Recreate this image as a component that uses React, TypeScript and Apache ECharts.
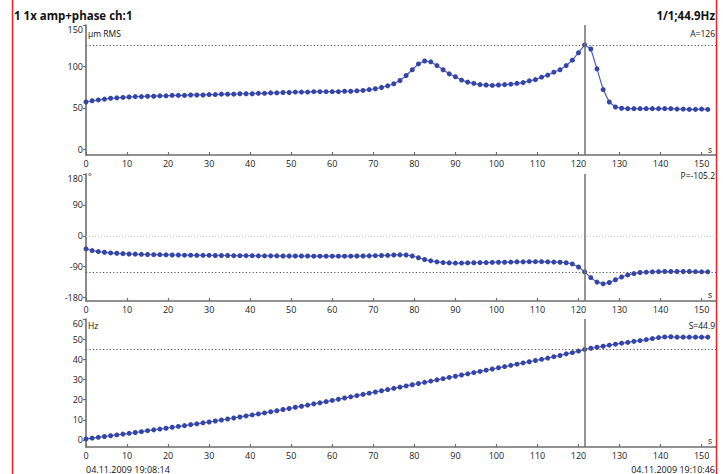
import React, { useEffect, useRef } from "react";
import * as echarts from "echarts";

// ---- data ----
const times = [
  0, 1.5, 3, 4.5, 6, 7.5, 9, 10.5, 12, 13.5,
  15, 16.5, 18, 19.5, 21, 22.5, 24, 25.5, 27, 28.5,
  30, 31.5, 33, 34.5, 36, 37.5, 39, 40.5, 42, 43.5,
  45, 46.5, 48, 49.5, 51, 52.5, 54, 55.5, 57, 58.5,
  60, 61.5, 63, 64.5, 66, 67.5, 69, 70.5, 72, 73.5,
  75, 76.5, 78, 79.5, 81, 82.5, 84, 85.5, 87, 88.5,
  90, 91.5, 93, 94.5, 96, 97.5, 99, 100.5, 102, 103.5,
  105, 106.5, 108, 109.5, 111, 112.5, 114, 115.5, 117, 118.5,
  120, 121.5, 123, 124.5, 126, 127.5, 129, 130.5, 132, 133.5,
  135, 136.5, 138, 139.5, 141, 142.5, 144, 145.5, 147, 148.5,
  150, 151.5,
];

const amplitude = [
  57, 58.5, 59.5, 60.5, 61.5, 62, 62.5, 63, 63.5, 63.5,
  64, 64, 64.5, 64.5, 65, 65, 65, 65.5, 65.5, 65.5,
  66, 66, 66.5, 66.5, 66.5, 67, 67, 67, 67.5, 67.5,
  68, 68, 68.5, 68.5, 69, 69, 69, 69.5, 69.5, 69.5,
  69.5, 69.5, 70, 70, 70.5, 71, 72, 73, 74.5, 76.5,
  79, 83, 89, 96, 103, 106.5, 105.5, 101, 96, 91,
  87.5, 83.5, 81, 79.5, 78, 77.5, 77, 77.5, 78, 78.5,
  79.5, 80.5, 82.5, 84, 87, 89.5, 93, 96, 101, 107.5,
  116.5, 126, 121, 97, 72, 57, 51, 49.5, 49, 49,
  49, 49, 49, 49, 49, 49, 48.5, 48.5, 48, 48,
  48.5, 48,
];

const phase = [
  -38, -43, -46, -48, -50, -51, -52, -53, -53.5, -54,
  -54.5, -55, -55, -55.5, -56, -56, -56.5, -56.5, -57, -57,
  -57, -57.5, -57.5, -57.5, -58, -58, -58, -58, -58.5, -58.5,
  -58.5, -58.5, -59, -59, -59, -59, -59, -59.5, -59.5, -59.5,
  -59.5, -59.5, -59.5, -59.5, -59, -59, -58.5, -58, -57.5, -57,
  -56, -55.5, -56, -59, -64, -69, -73, -76, -78, -79,
  -79.5, -79.5, -79, -78.5, -78, -78, -77.5, -77, -77, -76.5,
  -76, -76, -75.5, -75.5, -75.5, -76, -76.5, -77, -78.5, -82,
  -91, -105.2, -122, -135, -140, -136, -128, -120, -114, -110,
  -107, -106, -105, -104.5, -104, -104, -104, -104, -104, -104.5,
  -105, -105,
];

const frequency = [
  0.5, 0.9, 1.3, 1.7, 2.1, 2.5, 2.9, 3.3, 3.7, 4.1,
  4.6, 5.0, 5.4, 5.8, 6.3, 6.7, 7.1, 7.6, 8.0, 8.5,
  8.9, 9.4, 9.9, 10.4, 10.9, 11.4, 11.9, 12.4, 12.9, 13.4,
  14.0, 14.5, 15.1, 15.6, 16.2, 16.7, 17.3, 17.9, 18.4, 19.0,
  19.6, 20.2, 20.8, 21.4, 22.0, 22.6, 23.2, 23.8, 24.4, 25.0,
  25.6, 26.2, 26.8, 27.4, 28.0, 28.6, 29.2, 29.8, 30.4, 31.0,
  31.6, 32.2, 32.8, 33.4, 34.0, 34.6, 35.2, 35.8, 36.4, 37.0,
  37.6, 38.2, 38.8, 39.4, 40.0, 40.6, 41.3, 41.9, 42.7, 43.3,
  44.1, 44.9, 45.5, 46.0, 46.5, 47.0, 47.5, 48.0, 48.4, 48.9,
  49.3, 49.8, 50.3, 50.8, 51.1, 51.2, 51.0, 51.0, 51.0, 51.0,
  51.0, 51.0,
];

const xTicks = [0, 10, 20, 30, 40, 50, 60, 70, 80, 90, 100, 110, 120, 130, 140, 150];
const ampTicks = [0, 50, 100, 150];
const phaseTicks = [-180, -90, 0, 90, 180];
const freqTicks = [0, 10, 20, 30, 40, 50, 60];

const cursorTime = 121.5;
const ampRef = 126;
const phaseRef = -105.2;
const freqRef = 44.9;

const titleLeft = "1 1x amp+phase ch:1";
const titleRight = "1/1;44.9Hz";
const startDate = "04.11.2009 19:08:14";
const endDate = "04.11.2009 19:10:46";

const FONT = '"Open Sans", "Noto Sans", sans-serif';
const AXIS_COLOR = "#6e6e6e";
const LINE_COLOR = "#3444a8";

export default function App() {
  const ref = useRef<HTMLDivElement>(null);

  useEffect(() => {
    document.body.style.margin = "0";
    if (!ref.current) return;
    const chart = echarts.init(ref.current, undefined, { renderer: "svg" });

    const grids = [
      { left: 86, top: 25, width: 630, height: 130 },
      { left: 86, top: 174, width: 630, height: 127 },
      { left: 86, top: 319, width: 630, height: 128 },
    ];

    const xAxes = [0, 1, 2].map((i) => ({
      type: "value",
      gridIndex: i,
      min: 0,
      max: 153.5,
      axisLine: { show: true, onZero: false, lineStyle: { color: AXIS_COLOR, width: 1.6 } },
      axisTick: { show: true, inside: true, length: 3, customValues: xTicks, lineStyle: { color: AXIS_COLOR, width: 1.2 } },
      axisLabel: { customValues: xTicks, fontSize: 9, color: "#222", margin: 4, fontFamily: FONT },
      splitLine: { show: false },
    }));

    const yAxisBase = (i: number, min: number, max: number, ticks: number[]) => ({
      type: "value",
      gridIndex: i,
      min,
      max,
      axisLine: { show: true, onZero: false, lineStyle: { color: AXIS_COLOR, width: 1.6 } },
      axisTick: { show: true, inside: false, length: 3, customValues: ticks, lineStyle: { color: AXIS_COLOR, width: 1.2 } },
      axisLabel: {
        customValues: ticks,
        fontSize: 9,
        color: "#222",
        margin: 3,
        fontFamily: FONT,
        verticalAlignMaxLabel: "top",
      },
      splitLine: { show: false },
    });

    const yAxes = [
      yAxisBase(0, -7, 150, ampTicks),
      yAxisBase(1, -190, 180, phaseTicks),
      yAxisBase(2, -3.5, 60, freqTicks),
    ];

    const cursorLine = { xAxis: cursorTime, lineStyle: { color: "#707070", width: 1.5, type: "solid" } };
    const refLine = (v: number) => ({ yAxis: v, lineStyle: { color: "#555", width: 1.2, type: [1.2, 2.2] } });

    const mkSeries = (i: number, vals: number[], lines: any[]) => ({
      type: "line",
      xAxisIndex: i,
      yAxisIndex: i,
      data: times.map((t, k) => [t, vals[k]]),
      symbol: "circle",
      symbolSize: 5,
      showSymbol: true,
      itemStyle: { color: LINE_COLOR },
      lineStyle: { color: "#4d5cb8", width: 1.2 },
      markLine: {
        silent: true,
        symbol: ["none", "none"],
        label: { show: false },
        data: lines,
      },
    });

    const txt = (text: string, x: number, y: number, size: number, align: string, bold = false) => ({
      type: "text",
      x,
      y,
      style: {
        text,
        font: `${bold ? "bold " : ""}${size}px ${FONT}`,
        fill: "#111",
        textAlign: align,
        align,
        textVerticalAlign: "middle",
        verticalAlign: "middle",
      },
      z: 10,
    });

    const option: any = {
      animation: false,
      backgroundColor: "#ffffff",
      textStyle: { fontFamily: FONT },
      grid: grids,
      xAxis: xAxes,
      yAxis: yAxes,
      series: [
        mkSeries(0, amplitude, [refLine(ampRef), cursorLine]),
        mkSeries(1, phase, [
          { yAxis: 0, lineStyle: { color: "#c8c8c8", width: 1, type: [1, 2] } },
          refLine(phaseRef),
          cursorLine,
        ]),
        mkSeries(2, frequency, [refLine(freqRef), cursorLine]),
      ],
      graphic: [
        { type: "line", shape: { x1: 12.5, y1: 0, x2: 12.5, y2: 474 }, style: { stroke: "#e8262a", lineWidth: 1.5 }, z: 20 },
        { type: "line", shape: { x1: 716.5, y1: 0, x2: 716.5, y2: 474 }, style: { stroke: "#e8262a", lineWidth: 1.5 }, z: 20 },
        txt(titleLeft, 14, 15, 11.5, "left", true),
        txt(titleRight, 715, 15, 11.5, "right", true),
        txt("µm RMS", 88, 33, 8.5, "left"),
        txt("A=" + ampRef, 715, 33, 8.5, "right"),
        txt("°", 88, 176, 8.5, "left"),
        txt("P=" + phaseRef, 715, 175, 8.5, "right"),
        txt("Hz", 88, 325, 8.5, "left"),
        txt("S=" + freqRef, 715, 325, 8.5, "right"),
        txt("s", 712, 149, 8.5, "right"),
        txt("s", 712, 294, 8.5, "right"),
        txt("s", 712, 440, 8.5, "right"),
        txt(startDate, 86, 469, 9, "left"),
        txt(endDate, 715, 469, 9, "right"),
      ],
    };

    chart.setOption(option);
    return () => chart.dispose();
  }, []);

  return <div ref={ref} style={{ width: 723, height: 474 }} />;
}
